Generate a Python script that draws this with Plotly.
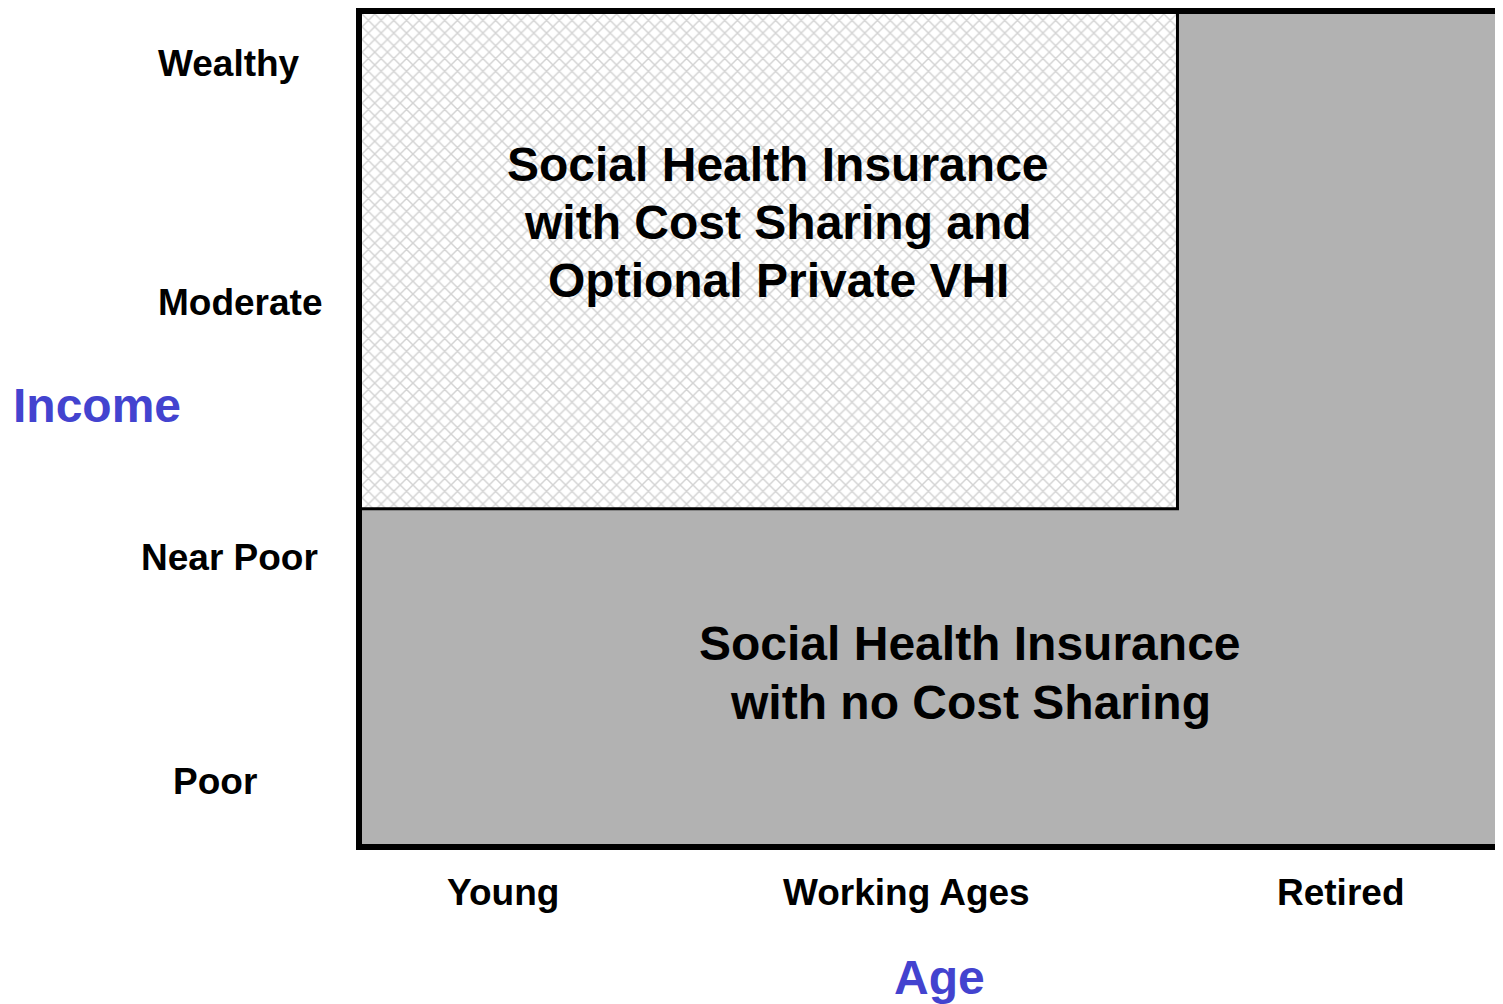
import plotly.graph_objects as go

# axis labels and where they sit (0-100 scale on both axes)
age_labels = ["Young", "Working Ages", "Retired"]
age_pos = [12.36, 47.68, 85.80]
income_labels = ["Wealthy", "Moderate", "Near Poor", "Poor"]
income_pos = [93.99, 65.26, 34.50, 7.57]
income_label_x = [-0.1170, -0.1069, -0.1157, -0.1284]

# regions of the policy map
shi_cost_x = [0, 71.47, 71.47, 0, 0]
shi_cost_y = [40.38, 40.38, 100, 100, 40.38]
shi_cost_lines = ["Social Health Insurance", "with Cost Sharing and", "Optional Private VHI"]
shi_cost_line_y = [81.85, 74.88, 67.91]
shi_cost_x_center = 36.46
shi_free_lines = ["Social Health Insurance", "with no Cost Sharing"]
shi_free_line_y = [24.16, 17.07]
shi_free_x_center = 53.29

FONT = "Liberation Sans, Arial, sans-serif"
BLUE = "#4343CF"
GRAY = "#b2b2b2"

fig = go.Figure()

# hatched region
fig.add_trace(go.Scatter(
    x=shi_cost_x, y=shi_cost_y, mode="lines", fill="toself",
    line=dict(width=0),
    fillcolor="white",
    fillpattern=dict(shape="x", size=9, solidity=0.3,
                     fgcolor="#a8a8a8", bgcolor="white"),
    hoverinfo="skip", showlegend=False,
))
# its right and bottom edge
fig.add_trace(go.Scatter(
    x=shi_cost_x[:3], y=shi_cost_y[:3], mode="lines",
    line=dict(color="black", width=3),
    hoverinfo="skip", showlegend=False,
))

for line, yp in zip(shi_cost_lines, shi_cost_line_y):
    fig.add_annotation(x=shi_cost_x_center, y=yp, text=line, showarrow=False,
                       font=dict(family=FONT, size=48, color="black", weight="bold"))
for line, yp in zip(shi_free_lines, shi_free_line_y):
    fig.add_annotation(x=shi_free_x_center, y=yp, text=line, showarrow=False,
                       font=dict(family=FONT, size=48, color="black", weight="bold"))

for lab, xp in zip(age_labels, age_pos):
    fig.add_annotation(x=xp, y=-0.0589, xref="x", yref="paper", text=lab, showarrow=False,
                       xanchor="center", yanchor="middle",
                       font=dict(family=FONT, size=37, color="black", weight="bold"))

for lab, yp, xl in zip(income_labels, income_pos, income_label_x):
    fig.add_annotation(x=xl, y=yp, xref="paper", yref="y", text=lab, showarrow=False,
                       xanchor="center", yanchor="middle",
                       font=dict(family=FONT, size=37, color="black", weight="bold"))

# axis titles
fig.add_annotation(x=-0.2323, y=0.5288, xref="paper", yref="paper", text="Income", showarrow=False,
                   xanchor="center", yanchor="middle",
                   font=dict(family=FONT, size=48, color=BLUE, weight="bold"))
fig.add_annotation(x=0.5057, y=-0.161, xref="paper", yref="paper", text="Age", showarrow=False,
                   xanchor="center", yanchor="middle",
                   font=dict(family=FONT, size=48, color=BLUE, weight="bold"))

fig.update_layout(
    width=1495, height=996,
    margin=dict(l=354, r=0, t=4, b=160),
    paper_bgcolor="white", plot_bgcolor=GRAY,
    xaxis=dict(range=[0, 100], showgrid=False, zeroline=False, showticklabels=False,
               showline=True, linecolor="black", linewidth=6, mirror=True, fixedrange=True),
    yaxis=dict(range=[0, 100], showgrid=False, zeroline=False, showticklabels=False,
               showline=True, linecolor="black", linewidth=6, mirror=False, fixedrange=True),
    showlegend=False,
)

fig.write_html("out.html")
